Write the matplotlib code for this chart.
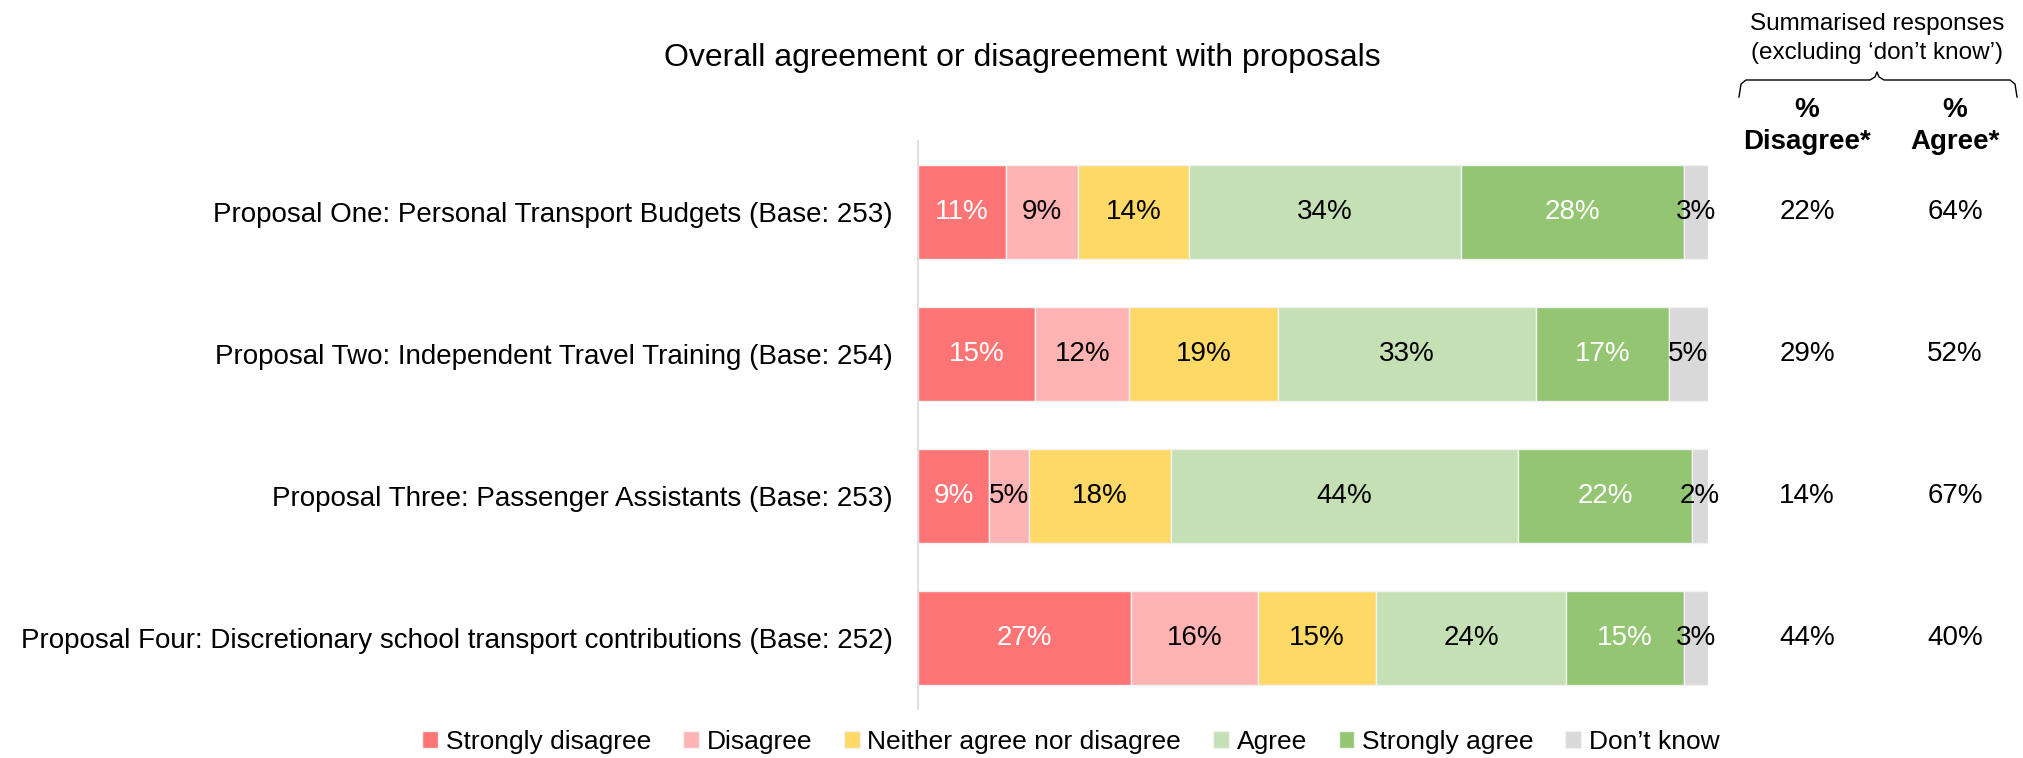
import matplotlib
matplotlib.use("Agg")
import matplotlib.pyplot as plt
from matplotlib.transforms import blended_transform_factory
from matplotlib.lines import Line2D
import numpy as np

plt.rcParams['font.family'] = ['Liberation Sans', 'DejaVu Sans']

proposals = [
    "Proposal One: Personal Transport Budgets (Base: 253)",
    "Proposal Two: Independent Travel Training (Base: 254)",
    "Proposal Three: Passenger Assistants (Base: 253)",
    "Proposal Four: Discretionary school transport contributions (Base: 252)",
]
categories = ["Strongly disagree", "Disagree", "Neither agree nor disagree",
              "Agree", "Strongly agree", "Don\u2019t know"]
strongly_disagree = [11, 15, 9, 27]
disagree = [9, 12, 5, 16]
neither = [14, 19, 18, 15]
agree = [34, 33, 44, 24]
strongly_agree = [28, 17, 22, 15]
dont_know = [3, 5, 2, 3]
summary_disagree = [22, 29, 14, 44]
summary_agree = [64, 52, 67, 40]

colors = ["#FF7575", "#FFB3B3", "#FFD966", "#C5E0B4", "#93C572", "#D9D9D9"]
label_colors = ["white", "black", "black", "black", "white", "black"]

series = [strongly_disagree, disagree, neither, agree, strongly_agree, dont_know]
data = np.array(series, dtype=float)
totals = data.sum(axis=0)
shares = data / totals * 100

fig = plt.figure(figsize=(20.24, 7.58), dpi=100)
ax = fig.add_axes([918 / 2024, 49 / 758, 790 / 2024, 568 / 758])

y = np.arange(len(proposals))
left = np.zeros(len(proposals))
for i, cat in enumerate(categories):
    ax.barh(y, shares[i], left=left, height=0.66, color=colors[i],
            edgecolor="#F2F2F2", linewidth=1, label=cat)
    for j in range(len(proposals)):
        ax.text(left[j] + shares[i][j] / 2, y[j], f"{int(series[i][j])}%",
                ha="center", va="center", fontsize=20, color=label_colors[i])
    left += shares[i]

ax.set_xlim(0, 100)
ax.set_ylim(len(proposals) - 0.5, -0.5)
ax.set_yticks(y)
ax.set_yticklabels(proposals, fontsize=20)
ax.tick_params(axis="y", length=0, pad=18)
ax.set_xticks([])
for s in ["top", "right", "bottom"]:
    ax.spines[s].set_visible(False)
ax.spines["left"].set_color("#D9D9D9")
ax.spines["left"].set_linewidth(1.2)

fig.text(1022 / 2024, 1 - 58 / 758, "Overall agreement or disagreement with proposals",
         ha="center", va="center", fontsize=23)

# summary columns
trans = blended_transform_factory(fig.transFigure, ax.transData)
x_dis = 1807 / 2024
x_agr = 1955 / 2024
for j in range(len(proposals)):
    ax.text(x_dis, y[j], f"{summary_disagree[j]}%", transform=trans,
            ha="center", va="center", fontsize=20)
    ax.text(x_agr, y[j], f"{summary_agree[j]}%", transform=trans,
            ha="center", va="center", fontsize=20)

fig.text(x_dis, 1 - 110 / 758, "%", ha="center", va="center", fontsize=20, fontweight="bold")
fig.text(x_dis, 1 - 142 / 758, "Disagree*", ha="center", va="center", fontsize=20, fontweight="bold")
fig.text(x_agr, 1 - 110 / 758, "%", ha="center", va="center", fontsize=20, fontweight="bold")
fig.text(x_agr, 1 - 142 / 758, "Agree*", ha="center", va="center", fontsize=20, fontweight="bold")

fig.text(1877 / 2024, 1 - 24 / 758, "Summarised responses", ha="center", va="center", fontsize=17.5)
fig.text(1877 / 2024, 1 - 53 / 758, "(excluding \u2018don\u2019t know\u2019)", ha="center", va="center", fontsize=17.5)

# curly brace
bx = [1739, 1741, 1746, 1870, 1875, 1877, 1879, 1884, 2010, 2015, 2017]
by = [97, 84, 80, 80, 77, 72, 77, 80, 80, 84, 97]
fig.add_artist(Line2D([v / 2024 for v in bx], [1 - v / 758 for v in by],
                      transform=fig.transFigure, color="black", linewidth=1))

ax.legend(loc="center", bbox_to_anchor=(1071 / 2024, 1 - 742 / 758),
          bbox_transform=fig.transFigure, ncol=6, frameon=False, fontsize=19,
          handlelength=0.6, handleheight=0.6, handletextpad=0.3, columnspacing=1.2,
          borderaxespad=0, borderpad=0)

fig.savefig("out.png", dpi=100)
